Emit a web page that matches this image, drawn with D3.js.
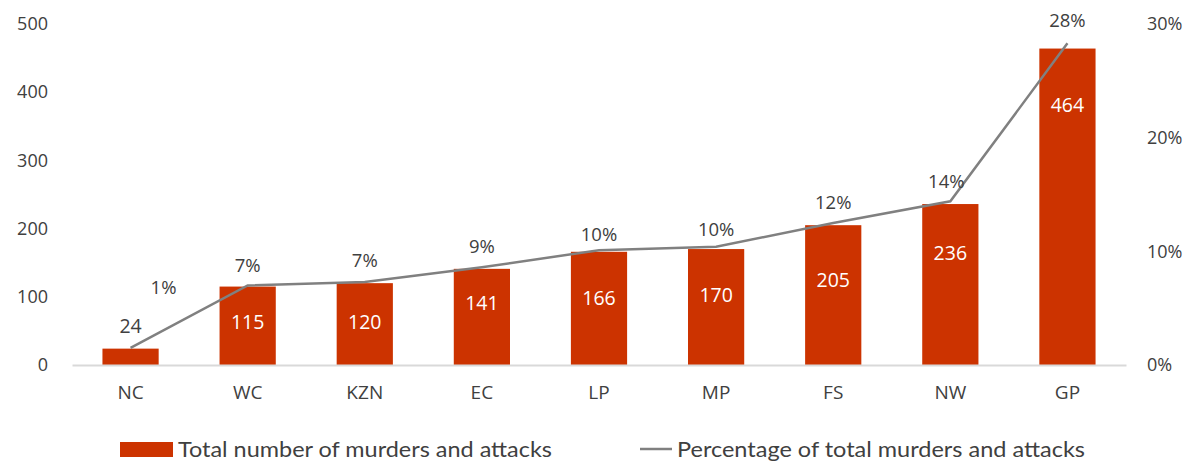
<!DOCTYPE html>
<html><head><meta charset="utf-8">
<script src="https://cdn.jsdelivr.net/npm/d3@7"></script>
<style>
body{margin:0;background:#fff;}
text{font-family:"Open Sans","Noto Sans",sans-serif;fill:#404040;}
</style></head>
<body><svg id="c" width="1193" height="461"></svg>
<script>
const categories = ["NC","WC","KZN","EC","LP","MP","FS","NW","GP"];
const totals = [24,115,120,141,166,170,205,236,464];
const percents = [1.5,7.0,7.3,8.6,10.1,10.4,12.5,14.4,28.3];
const percentLabels = ["1%","7%","7%","9%","10%","10%","12%","14%","28%"];
const leftTicks = [0,100,200,300,400,500];
const rightTicks = [0,10,20,30];
const legendLabels = ["Total number of murders and attacks","Percentage of total murders and attacks"];

// label placement (layout, in left-axis units)
const barLabelAt = [57,63,63,91,98,103,125,164,381];

const svg = d3.select("#c");
const barColor = "#cc3300", lineColor = "#808080", axisColor = "#d9d9d9";
const x = d3.scaleBand().domain(categories).range([72,1126]).paddingInner(0.52).paddingOuter(0.26);
const yL = d3.scaleLinear().domain([0,500]).range([365,24]);
const yR = d3.scaleLinear().domain([0,30]).range([365,24]);

// left axis
const gl = svg.append("g").attr("transform","translate(48,0)")
  .call(d3.axisLeft(yL).tickValues(leftTicks).tickSize(0).tickPadding(0));
gl.select(".domain").remove();
gl.selectAll("text").style("font-size","18px").attr("fill","#404040").attr("text-anchor","end");

// right axis
const gr = svg.append("g").attr("transform","translate(1147,0)")
  .call(d3.axisRight(yR).tickValues(rightTicks).tickSize(0).tickPadding(0).tickFormat(d=>d+"%"));
gr.select(".domain").remove();
gr.selectAll("text").style("font-size","18px").attr("fill","#404040");

// bars
svg.append("g").selectAll("rect").data(totals).join("rect")
  .attr("x",(d,i)=>x(categories[i])).attr("width",x.bandwidth())
  .attr("y",d=>yL(d)).attr("height",d=>yL(0)-yL(d)).attr("fill",barColor);

// x axis
const gx = svg.append("g").attr("transform","translate(0,365)")
  .call(d3.axisBottom(x).tickSize(0).tickPadding(21));
gx.select(".domain").attr("stroke",axisColor).attr("stroke-width",2);
gx.selectAll("text").style("font-size","19px").attr("fill","#404040");

// line
const cx = i => x(categories[i]) + x.bandwidth()/2;
svg.append("path").datum(percents)
  .attr("d", d3.line().x((d,i)=>cx(i)).y(d=>yR(d)))
  .attr("fill","none").attr("stroke",lineColor).attr("stroke-width",2.5);

// bar labels
svg.append("g").selectAll("text").data(totals).join("text")
  .attr("x",(d,i)=>cx(i)).attr("y",(d,i)=>yL(barLabelAt[i]))
  .attr("dy","0.35em").attr("text-anchor","middle").style("font-size","19.5px")
  .style("fill",(d,i)=> i===0 ? "#404040" : "#ffffff")
  .text(d=>d);

// percent labels
const pctDx = [33,0,0,0,0,0,0,-4,0];
const pctDy = [-60,-20,-21,-21,-16,-17,-20,-20,-23];
svg.append("g").selectAll("text").data(percents).join("text")
  .attr("x",(d,i)=>cx(i)+pctDx[i]).attr("y",(d,i)=>yR(d)+pctDy[i])
  .attr("dy","0.35em").attr("text-anchor","middle").style("font-size","18.5px")
  .text((d,i)=>percentLabels[i]);

// legend
const lg = svg.append("g");
lg.append("rect").attr("x",120).attr("y",442).attr("width",53).attr("height",15).attr("fill",barColor);
lg.append("text").attr("x",178).attr("y",457).style("font-size","21px").style("font-family","Lato, sans-serif")
  .attr("textLength",374).attr("lengthAdjust","spacingAndGlyphs").text(legendLabels[0]);
lg.append("line").attr("x1",640).attr("x2",672).attr("y1",449).attr("y2",449).attr("stroke",lineColor).attr("stroke-width",2.5);
lg.append("text").attr("x",677).attr("y",457).style("font-size","21px").style("font-family","Lato, sans-serif")
  .attr("textLength",408).attr("lengthAdjust","spacingAndGlyphs").text(legendLabels[1]);
</script></body></html>
